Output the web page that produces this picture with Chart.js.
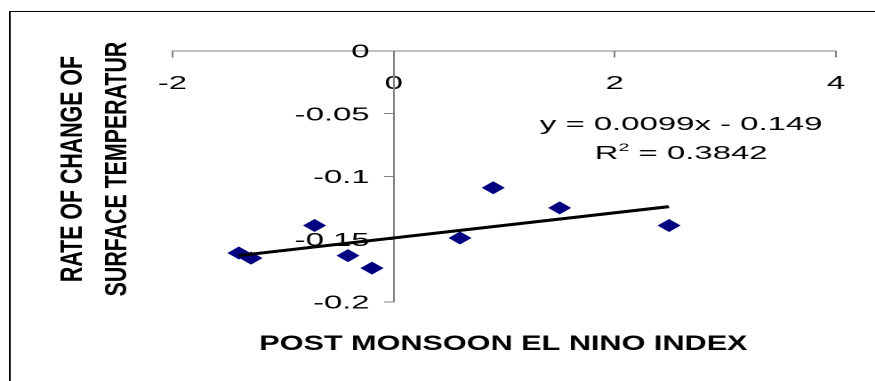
<!DOCTYPE html>
<html>
<head>
<meta charset="utf-8">
<script src="https://cdn.jsdelivr.net/npm/chart.js@4.4.0/dist/chart.umd.min.js"></script>
<style>
  html, body { margin: 0; padding: 0; background: #fff; overflow: hidden; }
  /* the original figure is stretched sideways, so draw narrow and widen it */
  #wrap { width: 492px; height: 381px; transform: scaleX(1.7785); transform-origin: 0 0; }
</style>
</head>
<body>
<div id="wrap"><canvas id="c" width="492" height="381"></canvas></div>
<script>
// data
const ninoIndex = [-1.40, -1.29, -0.715, -0.413, -0.196, 0.600, 0.901, 1.501, 2.491];
const tempRate  = [-0.161, -0.165, -0.139, -0.163, -0.173, -0.149, -0.109, -0.125, -0.139];
const trendX = [-1.40, 2.49];
const trendY = [-0.163, -0.124];
const xTicks = [-2, 0, 2, 4];
const yTicks = [-0.2, -0.15, -0.1, -0.05, 0];
const xTitle = 'POST MONSOON EL NINO INDEX';
const yTitle = ['RATE OF CHANGE OF', 'SURFACE TEMPERATUR'];
const eqText = 'y = 0.0099x - 0.149';
const r2Text = ' = 0.3842';

const FONT = '"Liberation Sans", Arial, sans-serif';

const extras = {
  id: 'extras',
  afterDraw(chart) {
    const c = chart.ctx;
    const xs = chart.scales.x, ys = chart.scales.y;
    c.save();
    // outer frame (only left and top edges show)
    c.strokeStyle = '#000';
    c.lineWidth = 1;
    c.strokeRect(5.5, 11.5, 700, 700);

    c.fillStyle = '#000';

    // y tick labels, left of the axis line that sits at x = 0
    c.font = '18.5px ' + FONT;
    c.textAlign = 'right';
    c.textBaseline = 'middle';
    const axisX = xs.getPixelForValue(0);
    ys.ticks.forEach(t => {
      c.fillText(String(t.value), axisX - 13.5, ys.getPixelForValue(t.value) + 1.5);
    });

    // axis titles
    c.textAlign = 'center';
    c.font = 'bold 21px ' + FONT;
    c.save();
    c.translate(283, 344);
    c.scale(0.82, 1);
    c.fillText(xTitle, 0, 0);
    c.restore();
    c.font = 'bold 17.5px ' + FONT;
    [41, 66].forEach((x, i) => {
      c.save();
      c.translate(x, 169);
      c.rotate(-Math.PI / 2);
      c.scale(1.22, 1);
      c.fillText(yTitle[i], 0, 0);
      c.restore();
    });

    // trendline label
    c.textBaseline = 'alphabetic';
    c.font = '18.5px ' + FONT;
    c.fillText(eqText, 383, 130);
    const wR = c.measureText('R').width;
    const wRest = c.measureText(r2Text).width;
    c.font = '11px ' + FONT;
    const w2 = c.measureText('2').width;
    const x0 = 383 - (wR + w2 + wRest) / 2;
    c.textAlign = 'left';
    c.font = '18.5px ' + FONT;
    c.fillText('R', x0, 159);
    c.font = '11px ' + FONT;
    c.fillText('2', x0 + wR, 151);
    c.font = '18.5px ' + FONT;
    c.fillText(r2Text, x0 + wR + w2, 159);
    c.restore();
  }
};

new Chart(document.getElementById('c'), {
  type: 'scatter',
  data: {
    datasets: [
      {
        type: 'line',
        data: trendX.map((x, i) => ({ x: x, y: trendY[i] })),
        borderColor: '#000',
        borderWidth: 3,
        pointRadius: 0,
        fill: false,
        order: 0
      },
      {
        data: ninoIndex.map((x, i) => ({ x: x, y: tempRate[i] })),
        pointStyle: 'rectRot',
        pointRadius: 6.5,
        backgroundColor: '#000080',
        borderColor: '#000080',
        borderWidth: 0,
        order: 1
      }
    ]
  },
  options: {
    responsive: false,
    animation: false,
    devicePixelRatio: 2,
    layout: { padding: { left: 97, right: 22, top: 51, bottom: 79 } },
    plugins: { legend: { display: false }, tooltip: { enabled: false } },
    scales: {
      x: {
        type: 'linear', min: -2, max: 4,
        position: { y: 0 },
        afterBuildTicks: s => { s.ticks = xTicks.map(v => ({ value: v })); },
        afterFit: s => { s.height = 0; },
        grid: { drawOnChartArea: false, drawTicks: true, tickLength: 6, color: '#808080', lineWidth: 1 },
        border: { display: true, color: '#808080', width: 1 },
        ticks: { color: '#000', font: { family: FONT, size: 18.5 }, padding: 16, maxRotation: 0, autoSkip: false,
                 callback: v => String(v) }
      },
      y: {
        type: 'linear', min: -0.2, max: 0,
        position: { x: 0 },
        afterBuildTicks: s => { s.ticks = yTicks.map(v => ({ value: v })); },
        afterFit: s => { s.width = 0; },
        grid: { drawOnChartArea: false, drawTicks: true, tickLength: 5, color: '#808080', lineWidth: 1 },
        border: { display: true, color: '#808080', width: 1 },
        ticks: { display: false }
      }
    }
  },
  plugins: [extras]
});
</script>
</body>
</html>
